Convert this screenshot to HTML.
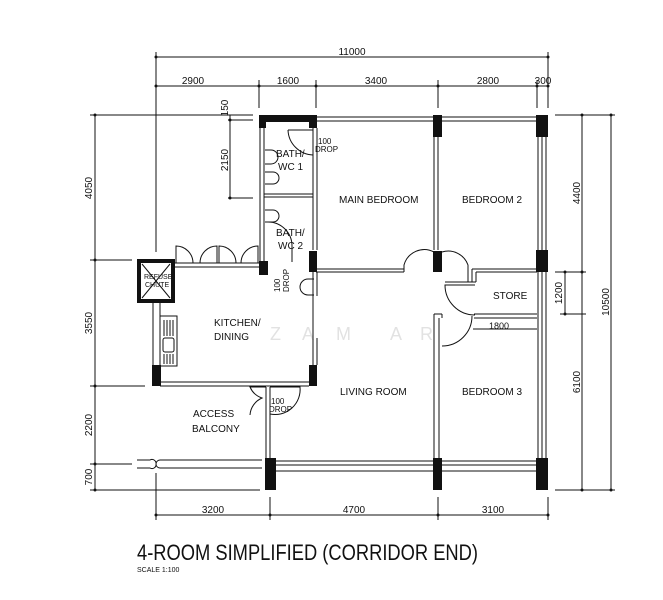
<!DOCTYPE html>
<html><head><meta charset="utf-8"><style>
html,body{margin:0;padding:0;background:#fff;}
svg{display:block;font-family:"Liberation Sans",sans-serif;}
text{fill:#111;}
</style></head><body>
<svg width="663" height="600" viewBox="0 0 663 600" xmlns="http://www.w3.org/2000/svg">
<g font-size="18" fill="#ddd" style="fill:#ddd">
<text x="270" y="340" style="fill:#e2e2e2">Z</text>
<text x="302" y="340" style="fill:#e2e2e2">A</text>
<text x="336" y="340" style="fill:#e2e2e2">M</text>
<text x="390" y="340" style="fill:#e2e2e2">A</text>
<text x="420" y="340" style="fill:#e2e2e2">R</text>
</g>
<g stroke="#111" stroke-width="1" fill="none">
<line x1="156" y1="57" x2="549" y2="57"/>
<line x1="156" y1="86" x2="549" y2="86"/>
<line x1="156" y1="52" x2="156" y2="252"/>
<line x1="259" y1="80" x2="259" y2="108"/>
<line x1="316" y1="80" x2="316" y2="108"/>
<line x1="438" y1="80" x2="438" y2="108"/>
<line x1="537" y1="80" x2="537" y2="108"/>
<line x1="548" y1="52" x2="548" y2="108"/>
<line x1="95" y1="115" x2="95" y2="490"/>
<line x1="90" y1="115" x2="253" y2="115"/>
<line x1="90" y1="260" x2="132" y2="260"/>
<line x1="90" y1="386" x2="145" y2="386"/>
<line x1="90" y1="464" x2="132" y2="464"/>
<line x1="90" y1="490" x2="260" y2="490"/>
<line x1="230" y1="115" x2="230" y2="198"/>
<line x1="228" y1="120" x2="253" y2="120"/>
<line x1="228" y1="198" x2="253" y2="198"/>
<line x1="582" y1="115" x2="582" y2="490"/>
<line x1="611" y1="115" x2="611" y2="490"/>
<line x1="555" y1="115" x2="615" y2="115"/>
<line x1="555" y1="272" x2="586" y2="272"/>
<line x1="555" y1="490" x2="615" y2="490"/>
<line x1="565" y1="272" x2="565" y2="314"/>
<line x1="560" y1="314" x2="586" y2="314"/>
<line x1="156" y1="515" x2="548" y2="515"/>
<line x1="156" y1="473" x2="156" y2="520"/>
<line x1="270" y1="497" x2="270" y2="520"/>
<line x1="438" y1="497" x2="438" y2="520"/>
<line x1="548" y1="497" x2="548" y2="520"/>
<line x1="473" y1="329" x2="537" y2="329"/>
</g>
<g fill="#111">
<circle cx="156" cy="57" r="1.5"/><circle cx="548" cy="57" r="1.5"/>
<circle cx="156" cy="86" r="1.5"/><circle cx="259" cy="86" r="1.5"/><circle cx="316" cy="86" r="1.5"/><circle cx="438" cy="86" r="1.5"/><circle cx="537" cy="86" r="1.5"/><circle cx="548" cy="86" r="1.5"/>
<circle cx="95" cy="115" r="1.5"/><circle cx="95" cy="260" r="1.5"/><circle cx="95" cy="386" r="1.5"/><circle cx="95" cy="464" r="1.5"/><circle cx="95" cy="490" r="1.5"/>
<circle cx="230" cy="120" r="1.5"/><circle cx="230" cy="198" r="1.5"/>
<circle cx="582" cy="115" r="1.5"/><circle cx="611" cy="115" r="1.5"/><circle cx="582" cy="272" r="1.5"/><circle cx="565" cy="272" r="1.5"/><circle cx="565" cy="314" r="1.5"/><circle cx="582" cy="490" r="1.5"/><circle cx="611" cy="490" r="1.5"/>
<circle cx="156" cy="515" r="1.5"/><circle cx="270" cy="515" r="1.5"/><circle cx="438" cy="515" r="1.5"/><circle cx="548" cy="515" r="1.5"/>
</g>
<g stroke="#111" stroke-width="1" fill="none">
<line x1="276" y1="117" x2="537" y2="117"/><line x1="316" y1="121" x2="537" y2="121"/>
<line x1="538" y1="137" x2="538" y2="458"/><line x1="542" y1="137" x2="542" y2="458"/><line x1="546" y1="137" x2="546" y2="458"/>
<line x1="276" y1="461" x2="537" y2="461"/><line x1="276" y1="465" x2="537" y2="465"/><line x1="276" y1="471" x2="537" y2="471"/>
<line x1="260" y1="128" x2="260" y2="262"/><line x1="264" y1="128" x2="264" y2="262"/>
<line x1="313" y1="128" x2="313" y2="155"/><line x1="317" y1="128" x2="317" y2="155"/>
<line x1="313" y1="155" x2="313" y2="250"/><line x1="317" y1="155" x2="317" y2="250"/>
<line x1="264" y1="194" x2="313" y2="194"/><line x1="264" y1="197" x2="313" y2="197"/>
<line x1="316" y1="269" x2="404" y2="269"/><line x1="316" y1="272" x2="404" y2="272"/>
<line x1="434" y1="137" x2="434" y2="250"/><line x1="438" y1="137" x2="438" y2="250"/>
<line x1="472" y1="269" x2="537" y2="269"/><line x1="476" y1="272" x2="537" y2="272"/>
<line x1="476" y1="272" x2="476" y2="282"/><line x1="472" y1="269" x2="472" y2="282"/>
<line x1="445" y1="282" x2="476" y2="282"/>
<line x1="474" y1="314" x2="537" y2="314"/><line x1="474" y1="318" x2="537" y2="318"/>
<line x1="434" y1="314" x2="434" y2="458"/><line x1="439" y1="318" x2="439" y2="458"/>
<line x1="434" y1="314" x2="442" y2="314"/><line x1="442" y1="314" x2="442" y2="318"/>
<line x1="174" y1="263" x2="262" y2="263"/><line x1="174" y1="267" x2="262" y2="267"/>
<line x1="153" y1="302" x2="153" y2="366"/><line x1="160" y1="302" x2="160" y2="366"/>
<line x1="160" y1="382" x2="309" y2="382"/><line x1="160" y1="386" x2="309" y2="386"/>
<line x1="313" y1="272" x2="313" y2="365"/><line x1="317" y1="272" x2="317" y2="296"/><line x1="317" y1="338" x2="317" y2="365"/>
<path d="M176 263 V246 A17 17 0 0 1 193 263"/><path d="M217 263 V246 A17 17 0 0 0 200 263"/>
<path d="M219 263 V246 A17 17 0 0 1 236 263"/><path d="M258 263 V246 A17 17 0 0 0 241 263"/>
<path d="M288 130 A26 26 0 0 0 313 155"/><line x1="288" y1="130" x2="313" y2="130"/>
<path d="M268 222 A24 24 0 0 1 292 246 V262"/>
<path d="M314 279 h-6 a8 8 0 0 0 0 16 h6"/>
<path d="M404 272 V265 A21 21 0 0 1 434 252"/>
<path d="M468 282 V265 A21 21 0 0 0 442 252"/>
<path d="M475 285 H445 A30 30 0 0 0 475 315"/>
<path d="M442 346 A30 30 0 0 0 472 316"/>
<path d="M266 387 H250 A20 20 0 0 0 262 398 A20 20 0 0 0 250 415"/>
<path d="M270 387 H300 A25 25 0 0 1 270 414"/>
<line x1="266" y1="387" x2="266" y2="458"/><line x1="270" y1="387" x2="270" y2="458"/>
<path d="M137 460 H150 A4 4 0 0 1 156 464 A4 4 0 0 1 160 460 H262"/>
<path d="M137 468 H150 A4 4 0 0 0 156 464 A4 4 0 0 0 160 468 H262"/>
<rect x="160" y="316" width="17" height="50"/>
<rect x="163" y="338" width="11" height="14" rx="2"/>
<line x1="164" y1="320" x2="164" y2="336"/><line x1="167" y1="320" x2="167" y2="336"/><line x1="170" y1="320" x2="170" y2="336"/><line x1="173" y1="320" x2="173" y2="336"/>
<line x1="164" y1="354" x2="164" y2="364"/><line x1="167" y1="354" x2="167" y2="364"/><line x1="170" y1="354" x2="170" y2="364"/><line x1="173" y1="354" x2="173" y2="364"/>
<path d="M265 150 h6 a7 7 0 0 1 0 14 h-6"/><path d="M265 172 h8 a6 6 0 0 1 0 12 h-8"/>
<path d="M265 210 h8 a6 6 0 0 1 0 12 h-8"/>
<line x1="142" y1="264" x2="170" y2="298"/><line x1="170" y1="264" x2="142" y2="298"/>
</g>
<g fill="#111">
<path d="M259 115 H316 V128 H309 V122 H266 V128 H259 Z"/>
<rect x="309" y="115" width="8" height="13"/>
<rect x="433" y="115" width="9" height="22"/>
<rect x="536" y="115" width="12" height="22"/>
<rect x="536" y="250" width="12" height="22"/>
<rect x="433" y="251" width="9" height="21"/>
<rect x="309" y="251" width="8" height="21"/>
<rect x="259" y="261" width="9" height="14"/>
<path d="M137 259 H175 V303 H137 Z M141 263 V299 H171 V263 Z" fill-rule="evenodd"/>
<rect x="152" y="365" width="9" height="21"/>
<rect x="309" y="365" width="8" height="21"/>
<rect x="265" y="458" width="11" height="32"/>
<rect x="433" y="458" width="9" height="32"/>
<rect x="536" y="458" width="12" height="32"/>
</g>
<g font-size="10">
<text x="193" y="84" text-anchor="middle">2900</text>
<text x="288" y="84" text-anchor="middle">1600</text>
<text x="376" y="84" text-anchor="middle">3400</text>
<text x="488" y="84" text-anchor="middle">2800</text>
<text x="543" y="84" text-anchor="middle">300</text>
<text x="352" y="55" text-anchor="middle">11000</text>
<text x="213" y="513" text-anchor="middle">3200</text>
<text x="354" y="513" text-anchor="middle">4700</text>
<text x="493" y="513" text-anchor="middle">3100</text>
<text x="499" y="329" text-anchor="middle" font-size="9">1800</text>
<text transform="translate(92 188) rotate(-90)" text-anchor="middle">4050</text>
<text transform="translate(92 323) rotate(-90)" text-anchor="middle">3550</text>
<text transform="translate(92 425) rotate(-90)" text-anchor="middle">2200</text>
<text transform="translate(92 477) rotate(-90)" text-anchor="middle">700</text>
<text transform="translate(228 108) rotate(-90)" text-anchor="middle">150</text>
<text transform="translate(228 160) rotate(-90)" text-anchor="middle">2150</text>
<text transform="translate(580 193) rotate(-90)" text-anchor="middle">4400</text>
<text transform="translate(562 293) rotate(-90)" text-anchor="middle">1200</text>
<text transform="translate(580 382) rotate(-90)" text-anchor="middle">6100</text>
<text transform="translate(609 302) rotate(-90)" text-anchor="middle">10500</text>
<text x="339" y="203">MAIN BEDROOM</text>
<text x="462" y="203">BEDROOM 2</text>
<text x="493" y="299">STORE</text>
<text x="462" y="395">BEDROOM 3</text>
<text x="340" y="395">LIVING ROOM</text>
<text x="214" y="326">KITCHEN/</text>
<text x="214" y="340">DINING</text>
<text x="193" y="417">ACCESS</text>
<text x="192" y="432">BALCONY</text>
<text x="276" y="157">BATH/</text>
<text x="278" y="170">WC 1</text>
<text x="276" y="236">BATH/</text>
<text x="278" y="249">WC 2</text>
</g>
<g font-size="8">
<text x="318" y="144">100</text><text x="315" y="152">DROP</text>
<text x="271" y="404">100</text><text x="269" y="412">DROP</text>
<text transform="translate(280 292) rotate(-90)">100</text>
<text transform="translate(289 292) rotate(-90)">DROP</text>
<text x="144" y="279" font-size="7">REFUSE</text>
<text x="145" y="287" font-size="7">CHUTE</text>
</g>
<text x="137" y="560" font-size="22" textLength="341" lengthAdjust="spacingAndGlyphs">4-ROOM SIMPLIFIED (CORRIDOR END)</text>
<text x="137" y="572" font-size="7">SCALE  1:100</text>
</svg>
</body></html>
